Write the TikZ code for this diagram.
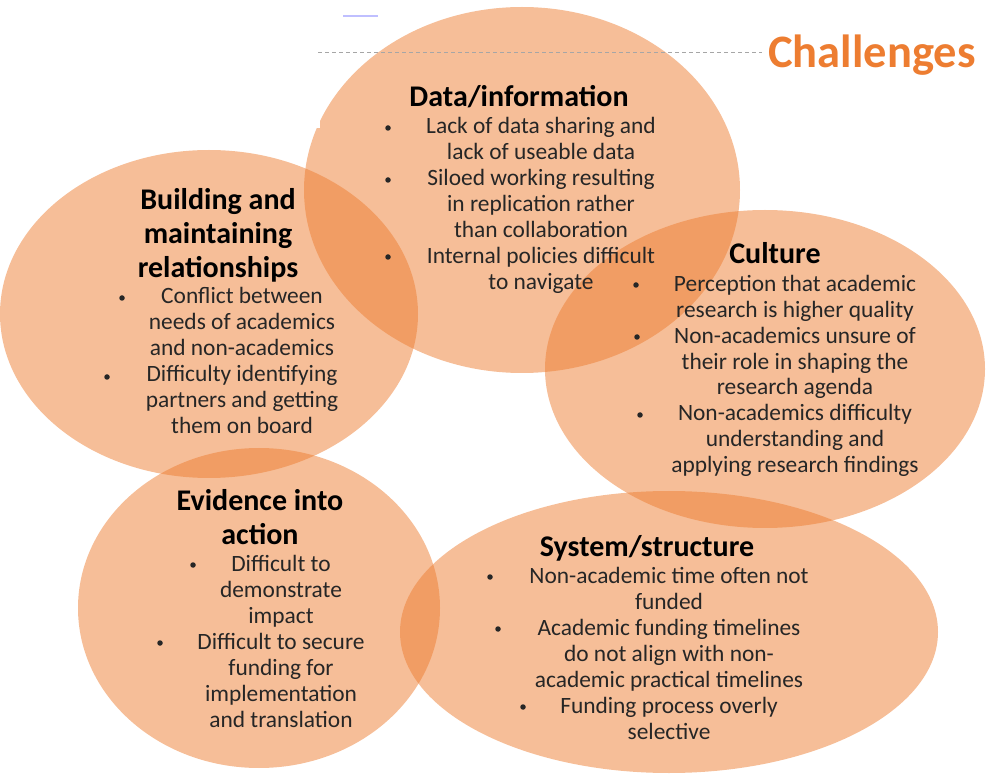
\documentclass[tikz,border=0pt]{standalone}
\usepackage{fontspec}
\setmainfont{Carlito}
\usetikzlibrary{shapes.geometric}
\definecolor{chorange}{HTML}{ED7D31}
\definecolor{chtext}{HTML}{262626}

\tikzset{
  blob/.style={ellipse, fill=chorange, fill opacity=.5, draw=none, inner sep=0pt},
  head/.style={font=\fontsize{30}{34}\selectfont\bfseries, align=center, inner sep=0pt, anchor=base},
  body/.style={font=\fontsize{23.4}{26}\selectfont, align=center, inner sep=0pt, anchor=base, text=chtext},
  dot/.style={circle, fill=chtext, minimum size=5.5pt, inner sep=0pt},
}

\begin{document}
\begin{tikzpicture}[x=1pt,y=-1pt]
    \useasboundingbox (0,0) rectangle (986,775);

    % the five circles
    \node[blob, minimum width=436pt, minimum height=366pt] (data) at (522,190) {};
    \node[blob, minimum width=418pt, minimum height=328pt] (build) at (209,314) {};
    \node[blob, minimum width=440pt, minimum height=318pt] (cult) at (765,369) {};
    \node[blob, minimum width=362pt, minimum height=320pt] (evid) at (259,608) {};
    \node[blob, minimum width=538pt, minimum height=282pt] (syst) at (669,632) {};
    \fill[white] (0,0) rectangle (320,128);

    % header
    \draw[gray!70, dashed, dash pattern=on 4pt off 3pt, line width=.8pt] (318,52) -- (762,52);
    \draw[blue!25, line width=2pt] (343,16) -- (378,16);
    \node[font=\fontsize{46.5}{50}\selectfont\bfseries, text=chorange, inner sep=0pt, anchor=base] (title) at (872,68) {Challenges};

    % data / information (base = last line)
    \node[head] (datahead) at (519,107) {Data/information};
    \node[body] (datalist) at (541,290) {Lack of data sharing and\\lack of useable data\\Siloed working resulting\\in replication rather\\than collaboration\\Internal policies difficult\\to navigate};
    \node[dot] (datab1) at (388,128) {};
    \node[dot] (datab2) at (388,180) {};
    \node[dot] (datab3) at (388,257) {};

    % building relationships
    \node[head] (buildhead) at (218,278) {Building and\\maintaining\\relationships};
    \node[body] (buildlist) at (242,434) {Conflict between\\needs of academics\\and non-academics\\Difficulty identifying\\partners and getting\\them on board};
    \node[dot] (buildb1) at (122,298) {};
    \node[dot] (buildb2) at (107,377) {};

    % culture
    \node[head] (culthead) at (775,264) {Culture};
    \node[body] (cultlist) at (795,473) {Perception that academic\\research is higher quality\\Non-academics unsure of\\their role in shaping the\\research agenda\\Non-academics difficulty\\understanding and\\applying research findings};
    \node[dot] (cultb1) at (636,285) {};
    \node[dot] (cultb2) at (637,337) {};
    \node[dot] (cultb3) at (640,415) {};

    % evidence into action
    \node[head] (evidhead) at (260,544) {Evidence into\\action};
    \node[body] (evidlist) at (281,727) {Difficult to\\demonstrate\\impact\\Difficult to secure\\funding for\\implementation\\and translation};
    \node[dot] (evidb1) at (193,565) {};
    \node[dot] (evidb2) at (160,643) {};

    % system / structure
    \node[head] (systhead) at (647,557) {System/structure};
    \node[body] (systlist) at (669,739) {Non-academic time often not\\funded\\Academic funding timelines\\do not align with non-\\academic practical timelines\\Funding process overly\\selective};
    \node[dot] (systb1) at (490,577) {};
    \node[dot] (systb2) at (498,629) {};
    \node[dot] (systb3) at (523,707) {};
\end{tikzpicture}
\end{document}
